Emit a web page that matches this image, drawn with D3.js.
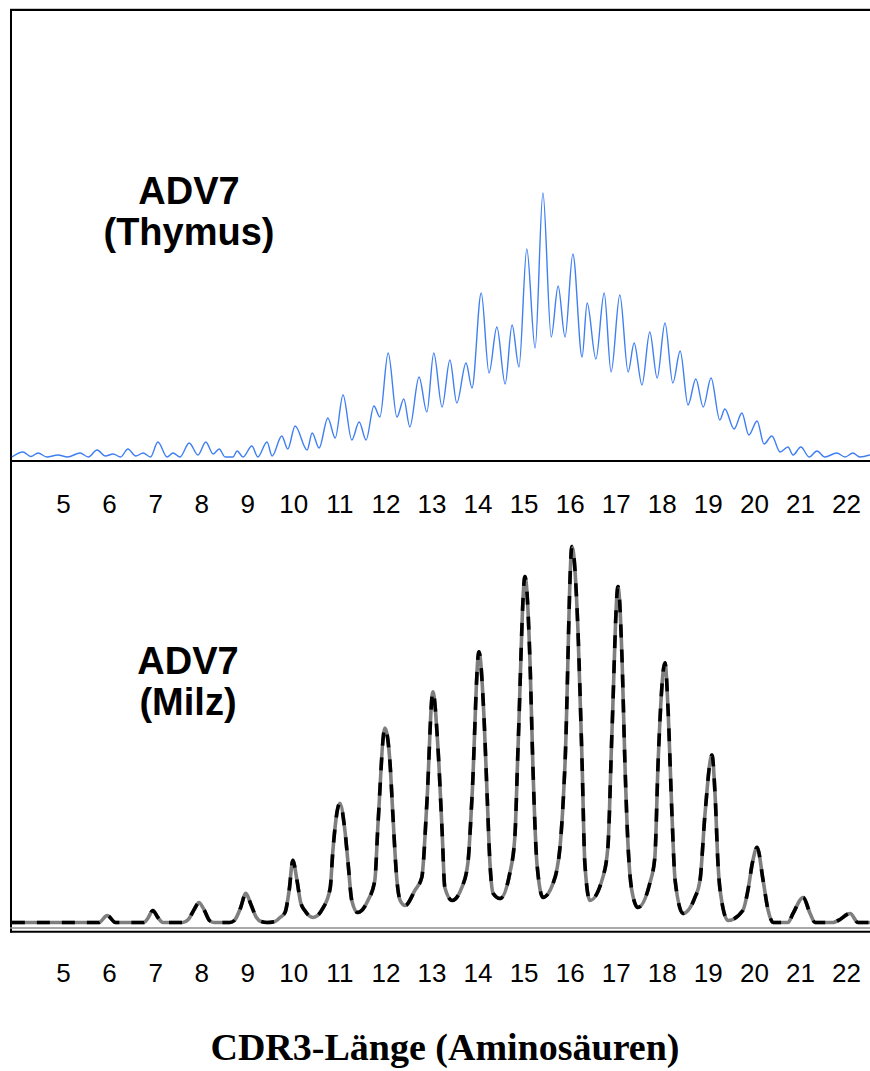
<!DOCTYPE html>
<html>
<head>
<meta charset="utf-8">
<script src="https://cdn.jsdelivr.net/npm/d3@7"></script>
<style>
  html, body { margin: 0; padding: 0; background: #fff; }
  svg { display: block; }
</style>
</head>
<body>
<script>
// CDR3 length axis (amino acids)
const cdr3Ticks = [5, 6, 7, 8, 9, 10, 11, 12, 13, 14, 15, 16, 17, 18, 19, 20, 21, 22];

// Spectratype trace, ADV7 thymus: CDR3 length (aa) and signal (a.u.)
const thymusLen = [3.89, 4.13, 4.30, 4.46, 4.65, 4.89, 5.10, 5.37, 5.55, 5.74, 5.92, 6.09, 6.25, 6.41, 6.58, 6.74, 6.90,
  7.06, 7.26, 7.39, 7.54, 7.74, 7.93, 8.10, 8.26, 8.39, 8.52, 8.69, 8.78, 8.91, 9.10, 9.23, 9.43, 9.54, 9.75, 9.88,
  10.04, 10.30, 10.41, 10.56, 10.75, 10.91, 11.08, 11.27, 11.43, 11.58, 11.75, 11.88, 12.06, 12.25, 12.40, 12.53,
  12.73, 12.90, 13.05, 13.23, 13.40, 13.55, 13.75, 13.88, 14.08, 14.25, 14.42, 14.60, 14.75, 14.90, 15.07, 15.25,
  15.42, 15.60, 15.75, 15.90, 16.07, 16.27, 16.38, 16.57, 16.75, 16.90, 17.09, 17.27, 17.40, 17.57, 17.74, 17.90,
  18.07, 18.24, 18.40, 18.57, 18.74, 18.90, 19.07, 19.26, 19.37, 19.57, 19.74, 19.89, 20.07, 20.22, 20.39, 20.57,
  20.74, 20.85, 21.02, 21.20, 21.37, 21.54, 21.80, 21.98, 22.15, 22.30, 22.52];
const thymusSignal = [0, 5, 0.5, 4, 0, 2, 0, 4, 0, 7, 1, 3, 0, 8, 1, 4, 0,
  15, 0, 4, 0, 14, 2, 15, 3, 8, 0, 0, 6, 0, 11, 0, 15, 1, 21, 8,
  31, 7, 24, 9, 39, 19, 62, 17, 35, 17, 51, 40, 104, 40, 58, 30,
  80, 45, 104, 50, 97, 54, 94, 69, 164, 84, 130, 73, 132, 90, 208, 109,
  264, 120, 171, 120, 203, 100, 154, 98, 164, 85, 162, 85, 114, 72, 125, 79,
  134, 74, 106, 52, 78, 50, 79, 37, 48, 28, 44, 22, 36, 13, 21, 5,
  10, 2, 10, 0, 6, 0, 4, 0, 4, 0, 2];

// Spectratype trace, ADV7 spleen: CDR3 length (aa) and signal (a.u.)
const spleenLen = [3.89, 5.78, 5.96, 6.14, 6.76, 6.84, 6.95, 7.06, 7.17, 7.60, 7.72, 7.86, 7.95, 8.06, 8.18, 8.28,
  8.62, 8.72, 8.85, 8.97, 9.08, 9.20, 9.30, 9.43, 9.60, 9.71, 9.82, 9.91, 9.99, 10.08, 10.16, 10.25, 10.43,
  10.64, 10.80, 10.86, 11.01, 11.12, 11.19, 11.27, 11.40, 11.62, 11.77, 11.84, 11.99, 12.10, 12.16, 12.25, 12.32,
  12.43, 12.64, 12.79, 12.90, 13.03, 13.14, 13.23, 13.29, 13.45, 13.66, 13.79, 13.88, 14.03, 14.14, 14.21, 14.27,
  14.34, 14.49, 14.70, 14.81, 14.88, 15.03, 15.14, 15.20, 15.29, 15.42, 15.64, 15.79, 15.90, 16.05, 16.18, 16.27,
  16.33, 16.44, 16.72, 16.83, 16.92, 17.05, 17.14, 17.20, 17.27, 17.35, 17.48, 17.74, 17.85, 17.92, 18.07, 18.14,
  18.22, 18.29, 18.46, 18.72, 18.83, 18.94, 19.09, 19.16, 19.22, 19.31, 19.44, 19.76, 19.87, 19.97, 20.07, 20.20,
  20.31, 20.42, 20.74, 20.85, 21.07, 21.22, 21.33, 21.72, 21.83, 22.09, 22.26, 22.52];
const spleenSignal = [0, 0, 7, 0, 0, 4, 12, 5, 0, 0, 3, 14, 20, 13, 2, 0,
  0, 2, 14, 29, 18, 5, 1, 0, 1, 5, 10, 32, 62, 42, 20, 12, 5,
  14, 34, 72, 119, 92, 59, 22, 10, 22, 42, 99, 194, 159, 109, 42, 22,
  17, 32, 45, 119, 230, 175, 92, 35, 22, 35, 59, 125, 270, 205, 125, 59,
  29, 24, 49, 85, 175, 345, 259, 159, 59, 25, 39, 75, 159, 375, 292, 159,
  59, 22, 45, 75, 192, 335, 259, 159, 75, 32, 15, 39, 65, 159, 259, 209,
  109, 42, 9, 25, 42, 109, 167, 125, 59, 19, 2, 12, 32, 60, 75, 42,
  12, 0, 0, 9, 25, 9, 0, 0, 2, 9, 0, 0];

const panelLabels = [["ADV7", "(Thymus)"], ["ADV7", "(Milz)"]];
const xTitle = "CDR3-Länge (Aminosäuren)";

const W = 870, H = 1071;
const svg = d3.select("body").append("svg").attr("width", W).attr("height", H);

const x = d3.scaleLinear().domain([5, 22]).range([63, 846]);
const yTop = d3.scaleLinear().domain([0, d3.max(thymusSignal)]).range([457, 193]);
const yBot = d3.scaleLinear().domain([0, d3.max(spleenSignal)]).range([922.5, 546.5]);

const lineGen = ys => d3.line()
  .x(d => x(d[0]))
  .y(d => ys(d[1]))
  .curve(d3.curveMonotoneX);

// frame
svg.append("line").attr("x1", 10).attr("x2", W).attr("y1", 8.5).attr("y2", 8.5)
  .attr("stroke", "#c8c8c8").attr("stroke-width", 1);
svg.append("line").attr("x1", 10).attr("x2", W).attr("y1", 10).attr("y2", 10)
  .attr("stroke", "#000").attr("stroke-width", 2);
svg.append("line").attr("x1", 11).attr("x2", 11).attr("y1", 9).attr("y2", 932.5)
  .attr("stroke", "#000").attr("stroke-width", 2);
svg.append("line").attr("x1", 10).attr("x2", W).attr("y1", 461).attr("y2", 461)
  .attr("stroke", "#000").attr("stroke-width", 2);
svg.append("line").attr("x1", 10).attr("x2", W).attr("y1", 928).attr("y2", 928)
  .attr("stroke", "#8c8c8c").attr("stroke-width", 1.4);
svg.append("line").attr("x1", 10).attr("x2", W).attr("y1", 931.7).attr("y2", 931.7)
  .attr("stroke", "#000").attr("stroke-width", 2);

// thymus trace
svg.append("path")
  .datum(d3.zip(thymusLen, thymusSignal))
  .attr("d", lineGen(yTop))
  .attr("fill", "none")
  .attr("stroke", "#3f7ff2")
  .attr("stroke-width", 1.4)
  .attr("stroke-linejoin", "round");

// spleen trace: grey base with black dashes on top
const spleenData = d3.zip(spleenLen, spleenSignal);
svg.append("path")
  .datum(spleenData)
  .attr("d", lineGen(yBot))
  .attr("fill", "none")
  .attr("stroke", "#7f7f7f")
  .attr("stroke-width", 3.6)
  .attr("stroke-linejoin", "round");
svg.append("path")
  .datum(spleenData)
  .attr("d", lineGen(yBot))
  .attr("fill", "none")
  .attr("stroke", "#000")
  .attr("stroke-width", 3.6)
  .attr("stroke-dasharray", "13 12");

// axis tick labels under each panel
function labelAxis(baseline) {
  const g = svg.append("g")
    .attr("transform", `translate(0,${baseline})`)
    .call(d3.axisBottom(x).tickValues(cdr3Ticks).tickSize(0).tickPadding(0).tickFormat(d3.format("d")));
  g.select(".domain").remove();
  g.selectAll("text")
    .attr("y", 0).attr("dy", 0)
    .attr("fill", "#000")
    .style("font-family", "'Liberation Sans', Arial, Helvetica, sans-serif")
    .style("font-size", "26px");
}
labelAxis(513);
labelAxis(982);

// panel labels
function panelLabel(lines, cx, baseline) {
  const t = svg.append("text")
    .attr("text-anchor", "middle")
    .style("font-family", "'Liberation Sans', Arial, Helvetica, sans-serif")
    .style("font-weight", "bold")
    .style("font-size", "38px")
    .attr("fill", "#000");
  lines.forEach((s, i) => {
    t.append("tspan").attr("x", cx).attr("y", baseline + i * 41).text(s);
  });
}
panelLabel(panelLabels[0], 189, 204);
panelLabel(panelLabels[1], 188, 674);

// x-axis title
svg.append("text")
  .attr("x", 445).attr("y", 1060)
  .attr("text-anchor", "middle")
  .style("font-family", "'Liberation Serif', 'Times New Roman', serif")
  .style("font-weight", "bold")
  .style("font-size", "38px")
  .attr("fill", "#000")
  .text(xTitle);
</script>
</body>
</html>
